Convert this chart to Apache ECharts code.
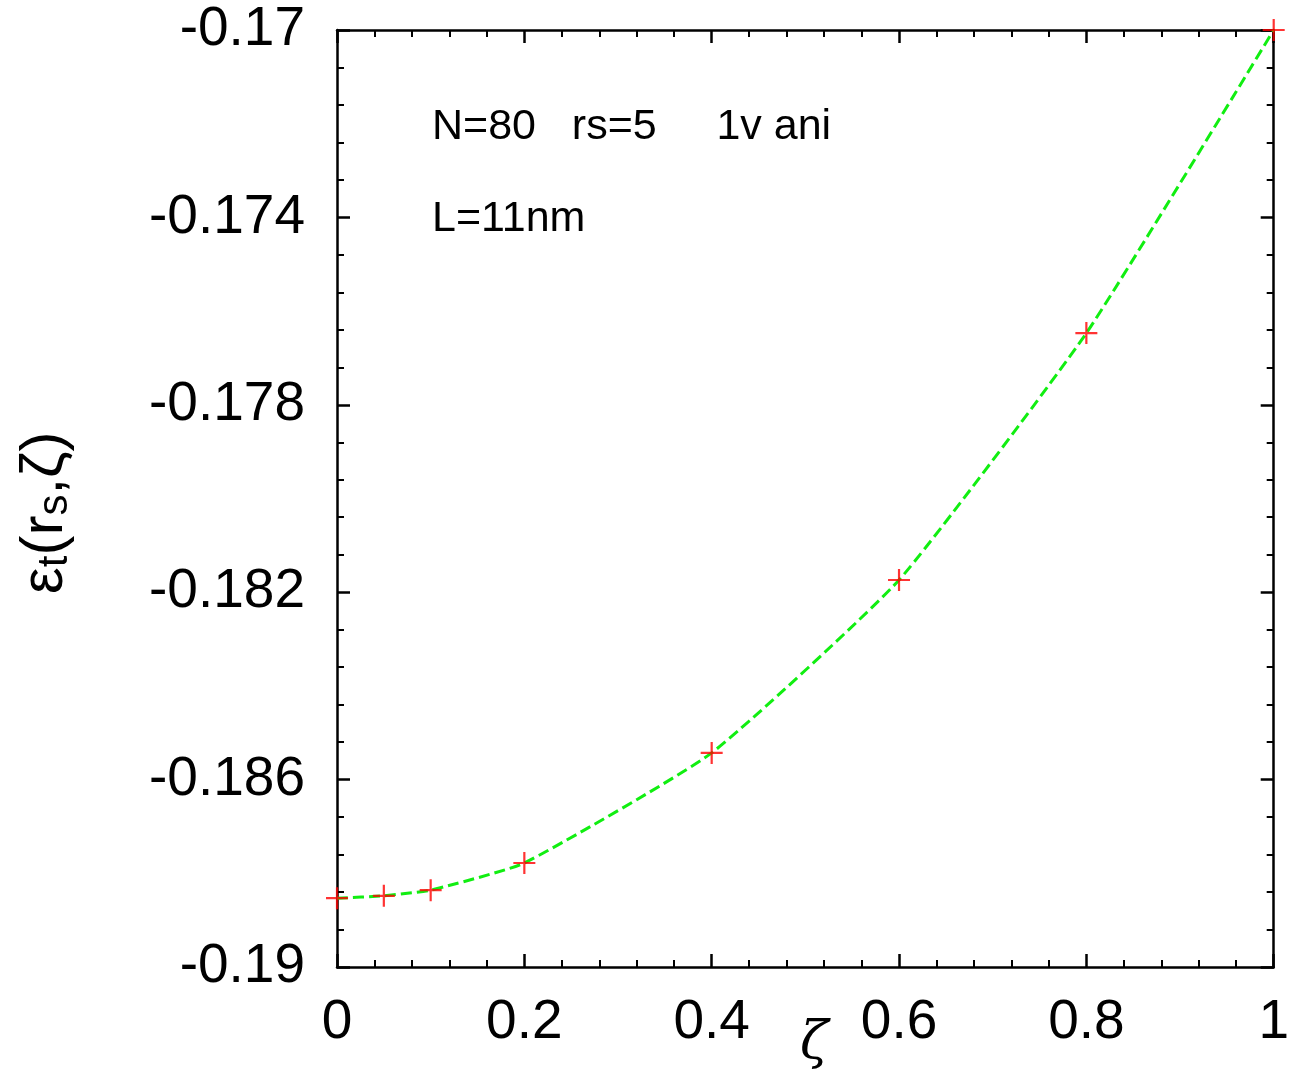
<!DOCTYPE html>
<html>
<head>
<meta charset="utf-8">
<script src="https://cdn.jsdelivr.net/npm/echarts@6/dist/echarts.min.js"></script>
<style>
  html, body { margin: 0; padding: 0; background: #fff; }
  #chart { width: 1292px; height: 1076px; }
</style>
</head>
<body>
<div id="chart"></div>
<script>
// zeta values and energies
const zeta = [0, 0.05, 0.1, 0.2, 0.4, 0.6, 0.8, 1.0];
const energy = [-0.18853, -0.18848, -0.18836, -0.18778, -0.18543, -0.18174, -0.17647, -0.17000];
const xTicks = [0, 0.2, 0.4, 0.6, 0.8, 1];
const yTicks = [-0.19, -0.186, -0.182, -0.178, -0.174, -0.17];

const font = 'Liberation Sans, Arial, sans-serif';
const plus = 'path://M-10,-1h20v2h-20zM-1,-10h2v20h-2z';

const chart = echarts.init(document.getElementById('chart'));

const axisCommon = {
    axisLine: { show: true, onZero: false, lineStyle: { color: '#000', width: 2.5 } },
    axisTick: { show: true, inside: true, length: 13, lineStyle: { color: '#000', width: 2.5 } },
    minorTick: { show: true, splitNumber: 5, length: 7, lineStyle: { color: '#000', width: 2 } },
    splitLine: { show: false }
};

const fmt = v => String(parseFloat(v.toFixed(3)));

chart.setOption({
    animation: false,
    grid: { left: 337, top: 30, width: 937, height: 937 },
    xAxis: [
        Object.assign({
            type: 'value', min: xTicks[0], max: xTicks[xTicks.length - 1], interval: 0.2, position: 'bottom',
            axisLabel: { fontSize: 55, fontFamily: font, color: '#000', margin: 28, formatter: fmt }
        }, axisCommon),
        Object.assign({
            type: 'value', min: xTicks[0], max: xTicks[xTicks.length - 1], interval: 0.2, position: 'top',
            axisLabel: { show: false }
        }, axisCommon)
    ],
    yAxis: [
        Object.assign({
            type: 'value', min: yTicks[0], max: yTicks[yTicks.length - 1], interval: 0.004, position: 'left',
            axisLabel: { fontSize: 55, fontFamily: font, color: '#000', margin: 32, formatter: fmt }
        }, axisCommon),
        Object.assign({
            type: 'value', min: yTicks[0], max: yTicks[yTicks.length - 1], interval: 0.004, position: 'right',
            axisLabel: { show: false }
        }, axisCommon)
    ],
    series: [
        {
            type: 'line',
            data: zeta.map((z, i) => [z, energy[i]]),
            smooth: 0.15,
            showSymbol: false,
            lineStyle: { color: '#11ee11', width: 3, type: [11, 5] },
            z: 2
        },
        {
            type: 'scatter',
            data: zeta.map((z, i) => [z, energy[i]]),
            symbol: plus,
            symbolSize: 22,
            itemStyle: { color: '#ff0000' },
            z: 3
        }
    ],
    graphic: [
        {
            type: 'text', left: 432, top: 106,
            style: { text: 'N=80   rs=5     1v ani', fontSize: 43, fontFamily: font, fill: '#000' }
        },
        {
            type: 'text', left: 432, top: 198,
            style: { text: 'L=11nm', fontSize: 43, fontFamily: font, fill: '#000' }
        },
        {
            type: 'text', x: 800, y: 1018,
            style: { text: 'ζ', fontSize: 52, fontFamily: 'DejaVu Serif, serif', fontStyle: 'italic', fill: '#000' }
        },
        {
            type: 'text', x: 14, y: 594, rotation: Math.PI / 2,
            style: {
                text: '{b|ε}{s|t}{b|(r}{s|s}{b|,ζ)}',
                fill: '#000',
                rich: {
                    b: { fontSize: 60, fontFamily: font, fill: '#000' },
                    s: { fontSize: 42, fontFamily: font, fill: '#000', verticalAlign: 'bottom', padding: [20, 0, 0, 0] }
                }
            }
        }
    ]
});
</script>
</body>
</html>
